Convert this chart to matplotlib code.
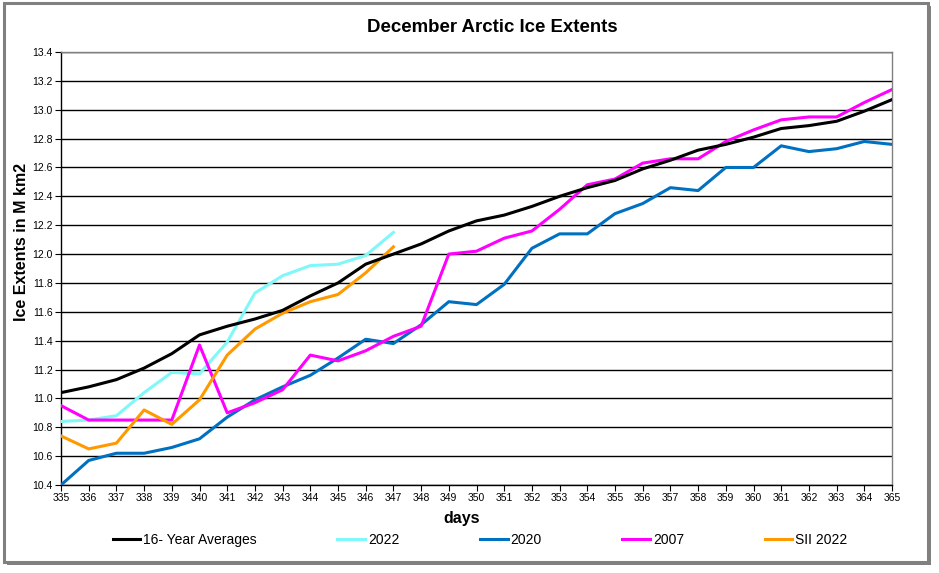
import matplotlib
matplotlib.use("Agg")
import matplotlib.pyplot as plt
from matplotlib.patches import Rectangle

plt.rcParams['font.family'] = ['Liberation Sans', 'DejaVu Sans']

days = list(range(335, 366))
avg16 = [11.04, 11.08, 11.13, 11.21, 11.31, 11.44, 11.50, 11.55, 11.61, 11.71,
         11.80, 11.93, 12.00, 12.07, 12.16, 12.23, 12.27, 12.33, 12.40, 12.46,
         12.51, 12.59, 12.65, 12.72, 12.76, 12.81, 12.87, 12.89, 12.92, 12.99, 13.07]
y2022 = [10.84, 10.85, 10.88, 11.04, 11.18, 11.17, 11.39, 11.73, 11.85, 11.92,
         11.93, 11.99, 12.15]
y2020 = [10.40, 10.57, 10.62, 10.62, 10.66, 10.72, 10.87, 10.99, 11.08, 11.16,
         11.28, 11.41, 11.38, 11.51, 11.67, 11.65, 11.79, 12.04, 12.14, 12.14,
         12.28, 12.35, 12.46, 12.44, 12.60, 12.60, 12.75, 12.71, 12.73, 12.78, 12.76]
y2007 = [10.95, 10.85, 10.85, 10.85, 10.85, 11.37, 10.90, 10.97, 11.06, 11.30,
         11.26, 11.33, 11.43, 11.50, 12.00, 12.02, 12.11, 12.16, 12.31, 12.48,
         12.52, 12.63, 12.66, 12.66, 12.78, 12.86, 12.93, 12.95, 12.95, 13.05, 13.14]
sii2022 = [10.74, 10.65, 10.69, 10.92, 10.82, 10.99, 11.30, 11.48, 11.59, 11.67,
           11.72, 11.87, 12.05]

yticks = [10.4 + 0.2 * i for i in range(16)]

fig = plt.figure(figsize=(9.39, 5.73), dpi=100)
W, H = 939, 573
ax = fig.add_axes([61 / W, 1 - 485 / H, (892 - 61) / W, (485 - 52) / H])

lw = 2.2
ax.plot(days, avg16, color='black', lw=lw, label='16- Year Averages', zorder=5)
ax.plot(days[:len(y2022)], y2022, color='#80F8F8', lw=lw, label='2022', zorder=3)
ax.plot(days, y2020, color='#0070C0', lw=lw, label='2020', zorder=3)
ax.plot(days, y2007, color='#FF00FF', lw=lw, label='2007', zorder=4)
ax.plot(days[:len(sii2022)], sii2022, color='#FF9900', lw=lw, label='SII 2022', zorder=4)

ax.set_xlim(335, 365)
ax.set_ylim(10.4, 13.4)
ax.set_xticks(days)
ax.set_xticklabels([str(d) for d in days], fontsize=7.5)
ax.set_yticks(yticks)
ax.set_yticklabels([f"{v:.1f}" for v in yticks], fontsize=7.5)
ax.tick_params(axis='both', direction='out', length=4, width=0.8, pad=2)
ax.grid(axis='y', color='black', lw=1.0)
ax.set_axisbelow(True)
for s in ['top', 'right']:
    ax.spines[s].set_color('#808080')
    ax.spines[s].set_linewidth(1.0)
for s in ['left', 'bottom']:
    ax.spines[s].set_color('black')
    ax.spines[s].set_linewidth(1.0)

fig.text(462 / W, 1 - 518 / H, 'days', fontsize=11.5, fontweight='bold',
         ha='center', va='center')
fig.text(22 / W, 1 - 242 / H, 'Ice Extents in M km2', fontsize=11.5,
         fontweight='bold', ha='center', va='center', rotation=90)
fig.text(492 / W, 1 - 27 / H, 'December Arctic Ice Extents', fontsize=13.4,
         fontweight='bold', ha='center', va='center')

handles, labels = ax.get_legend_handles_labels()
fig.legend(handles, labels, loc='center', bbox_to_anchor=(480 / W, 1 - 540 / H),
           ncol=5, frameon=False, fontsize=10, handlelength=2.0,
           handletextpad=0.2, columnspacing=5.8)

# outer chart frame with shadow
fig.patches.append(Rectangle((7 / W, 1 - 565 / H), (924 / W), (559 / H),
                             transform=fig.transFigure, facecolor='#808080',
                             edgecolor='none', zorder=-2))
fig.patches.append(Rectangle((4 / W, 1 - 562 / H), (924 / W), (559 / H),
                             transform=fig.transFigure, facecolor='white',
                             edgecolor='#808080', lw=2.2, zorder=-1))

fig.savefig('out.png', dpi=100)
